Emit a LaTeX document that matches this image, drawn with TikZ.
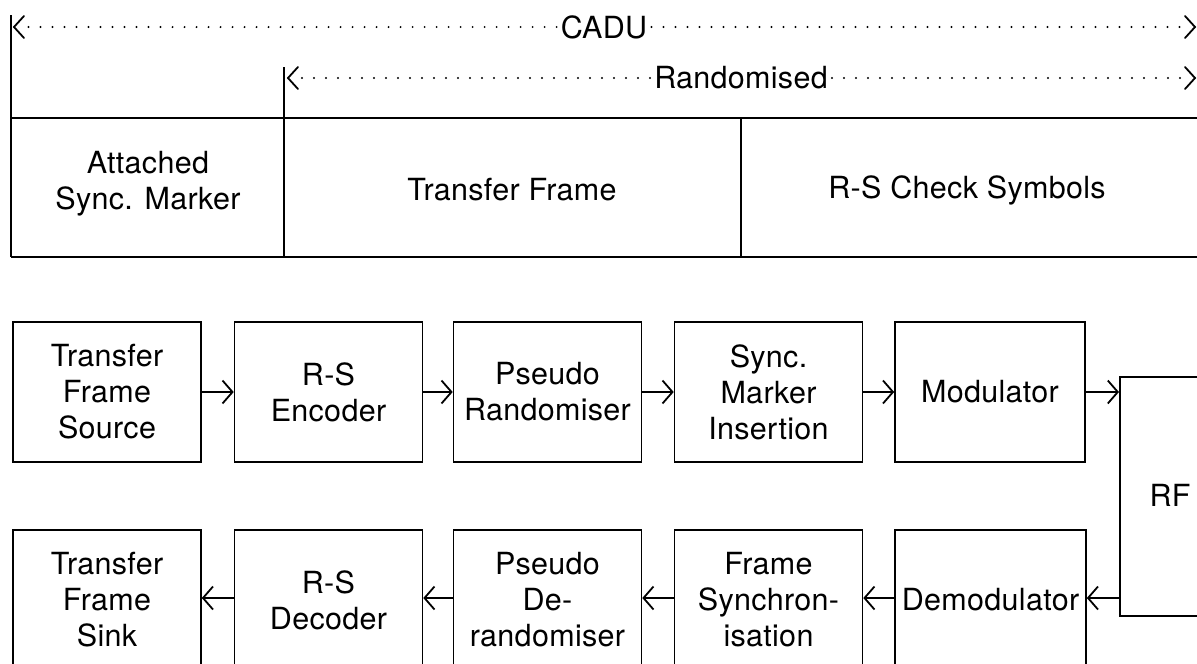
\documentclass[tikz,border=0pt]{standalone}
\usepackage{fontspec}
\setmainfont{TeX Gyre Heros}[LetterSpace=1]
\usetikzlibrary{arrows.meta,calc}
\tikzset{
  x=1pt, y=-1pt,
  font=\fontsize{30.5}{36}\selectfont,
  rule/.style={line width=1.6pt},
  blk/.style={draw, line width=1.6pt, align=center, inner sep=0pt,
              minimum width=188pt, minimum height=140pt},
  lbl/.style={align=center, inner sep=0pt},
  span/.style={line width=2.2pt, line cap=round, dash pattern=on 0pt off 12pt},
  barb/.tip={Straight Barb[length=10pt,width=23pt,line width=1.8pt]},
  flow/.style={line width=1.6pt, -barb},
}
\begin{document}
\begin{tikzpicture}
\useasboundingbox (0,0) rectangle (1197,664);
\clip (0,0) rectangle (1197,664);

% ---- frame layout ----
\draw[rule] (11,15) -- (11,257);
\draw[rule] (284,67) -- (284,257);
\draw[rule] (741,118) -- (741,257);
\draw[rule] (11,118) -- (1205,118);
\draw[rule] (11,257) -- (1205,257);

\node[lbl] (asm) at (148,184) {Attached\\Sync. Marker};
\node[lbl] (tfr) at (512,190) {Transfer Frame};
\node[lbl] (rsc) at (967,190) {R-S Check Symbols};

% CADU span
\coordinate (cadul) at (14,27);
\coordinate (cadur) at (1195,27);
\node[lbl, inner xsep=4pt] (cadu) at (604,27) {CADU};
\draw[span] (cadu.west) -- ($(cadul)+(8,0)$);
\draw[span] (cadu.east) -- ($(cadur)+(-8,0)$);

% Randomised span
\coordinate (randl) at (288,78);
\coordinate (randr) at (1195,78);
\node[lbl, inner xsep=4pt] (rand) at (741,78) {Randomised};
\draw[span] (rand.west) -- ($(randl)+(8,0)$);
\draw[span] (rand.east) -- ($(randr)+(-8,0)$);

% span end tips
\foreach \p/\d in {cadul/1, cadur/-1, randl/1, randr/-1}{
  \draw[line width=1.8pt, line cap=round, line join=miter]
    ($(\p)+(\d*10,-11)$) -- (\p) -- ($(\p)+(\d*10,11)$);
}

% ---- transmit chain ----
\node[blk] (src) at (107,392) {Transfer\\Frame\\Source};
\node[blk] (enc) at (328.5,392) {R-S\\Encoder};
\node[blk] (rnd) at (547.5,392) {Pseudo\\Randomiser};
\node[blk] (asmi) at (768.5,392) {Sync.\\Marker\\Insertion};
\node[blk, minimum width=190pt] (mod) at (990,392) {Modulator};

% ---- RF link ----
\node[draw, line width=1.6pt, minimum width=120pt, minimum height=239pt,
      anchor=north west, inner sep=0pt] (rf) at (1119,376) {};
\node[lbl] (rft) at (1170,495) {RF};

% ---- receive chain ----
\node[blk] (snk) at (107,600) {Transfer\\Frame\\Sink};
\node[blk] (dec) at (328.5,600) {R-S\\Decoder};
\node[blk] (drnd) at (547.5,600) {Pseudo\\De-\\randomiser};
\node[blk] (fsyn) at (768.5,600) {Frame\\Synchron-\\isation};
\node[blk, minimum width=191pt] (dem) at (990.5,600) {Demodulator};

% ---- connectors ----
\draw[flow] (src.east) -- (enc.west);
\draw[flow] (enc.east) -- (rnd.west);
\draw[flow] (rnd.east) -- (asmi.west);
\draw[flow] (asmi.east) -- (mod.west);
\draw[flow] (mod.east) -- (mod.east -| rf.west);
\draw[flow] ($(dem.east -| rf.west)+(0,-2)$) -- ($(dem.east)+(0,-2)$);
\draw[flow] ($(dem.west)+(0,-2)$) -- ($(fsyn.east)+(0,-2)$);
\draw[flow] ($(fsyn.west)+(0,-2)$) -- ($(drnd.east)+(0,-2)$);
\draw[flow] ($(drnd.west)+(0,-2)$) -- ($(dec.east)+(0,-2)$);
\draw[flow] ($(dec.west)+(0,-2)$) -- ($(snk.east)+(0,-2)$);
\end{tikzpicture}
\end{document}
